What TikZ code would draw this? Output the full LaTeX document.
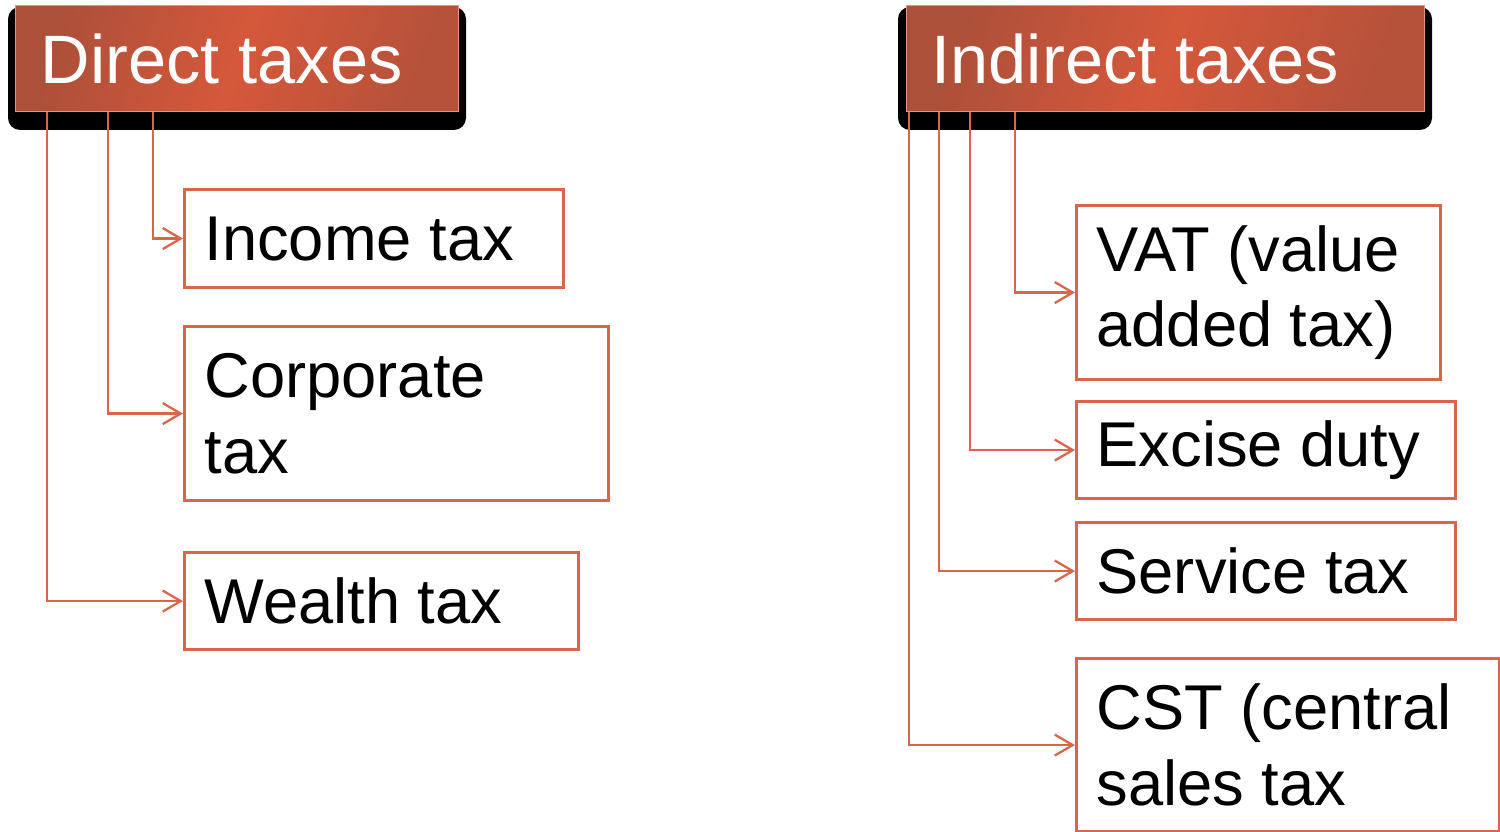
\documentclass[tikz,border=0pt]{standalone}
\usepackage{fontspec}
\setmainfont{Liberation Sans}
\usetikzlibrary{calc,arrows.meta}
\definecolor{taxline}{HTML}{D9664A}
\definecolor{hdrdark}{HTML}{A64E39}
\definecolor{hdrmain}{HTML}{D5583B}
\tikzset{
  header/.style={shade, shading=axis, left color=hdrdark!85!hdrmain, right color=hdrdark!65!hdrmain,
    middle color=hdrmain, shading angle=70, draw=taxline!70!white, line width=0.4pt,
    anchor=north west, text=white, align=flush left, inner xsep=0.25cm,
    minimum height=1.06cm, font=\fontsize{19.5}{23}\selectfont},
  leaf/.style={draw=taxline, line width=0.9pt, anchor=north west, align=flush left,
    inner xsep=0.2cm, font=\fontsize{18}{21.5}\selectfont},
  link/.style={draw=taxline, line width=0.65pt, -{Straight Barb[length=1.8mm,width=2.1mm]}}
}
\begin{document}
\begin{tikzpicture}
	%%%%% START %%%%%
	\useasboundingbox (0,0) rectangle (15,8.32);
	
	% shadows behind the headers
	\fill[black, rounded corners=0.12cm] (0.08,8.25) rectangle (4.66,7.02);
	\fill[black, rounded corners=0.12cm] (8.98,8.25) rectangle (14.32,7.02);
	
	% headers
	\node[header, minimum width=4.43cm, text width=3.93cm] (dh) at (0.15,8.27) {Direct taxes};
	\node[header, minimum width=5.18cm, text width=4.68cm] (ih) at (9.06,8.27) {Indirect taxes};
	
	% leaf boxes
	\node[leaf, text width=3.39cm, minimum height=0.98cm] (inc) at (1.83,6.44) {Income tax};
	\node[leaf, text width=3.84cm, minimum height=1.74cm] (corp) at (1.83,5.07) {Corporate\\tax};
	\node[leaf, text width=3.54cm, minimum height=0.97cm] (wlth) at (1.83,2.81) {Wealth tax};
	
	\node[leaf, text width=3.24cm, minimum height=1.74cm] (vat) at (10.75,6.28) {VAT (value\\added tax)};
	\node[leaf, text width=3.39cm, minimum height=0.97cm] (exc) at (10.75,4.32) {Excise duty};
	\node[leaf, text width=3.39cm, minimum height=0.97cm] (serv) at (10.75,3.11) {Service tax};
	\node[leaf, text width=3.83cm, minimum height=1.73cm] (cst) at (10.75,1.75) {CST (central\\sales tax};
	
	% connectors
	\draw[link] ($(dh.south west)+(1.38,0)$) |- (inc.west);
	\draw[link] ($(dh.south west)+(0.93,0)$) |- (corp.west);
	\draw[link] ($(dh.south west)+(0.32,0)$) |- (wlth.west);
	
	\draw[link] ($(ih.south west)+(1.09,0)$) |- (vat.west);
	\draw[link] ($(ih.south west)+(0.64,0)$) |- (exc.west);
	\draw[link] ($(ih.south west)+(0.33,0)$) |- (serv.west);
	\draw[link] ($(ih.south west)+(0.03,0)$) |- (cst.west);
	
	%%%%% END %%%%%
\end{tikzpicture}
\end{document}
